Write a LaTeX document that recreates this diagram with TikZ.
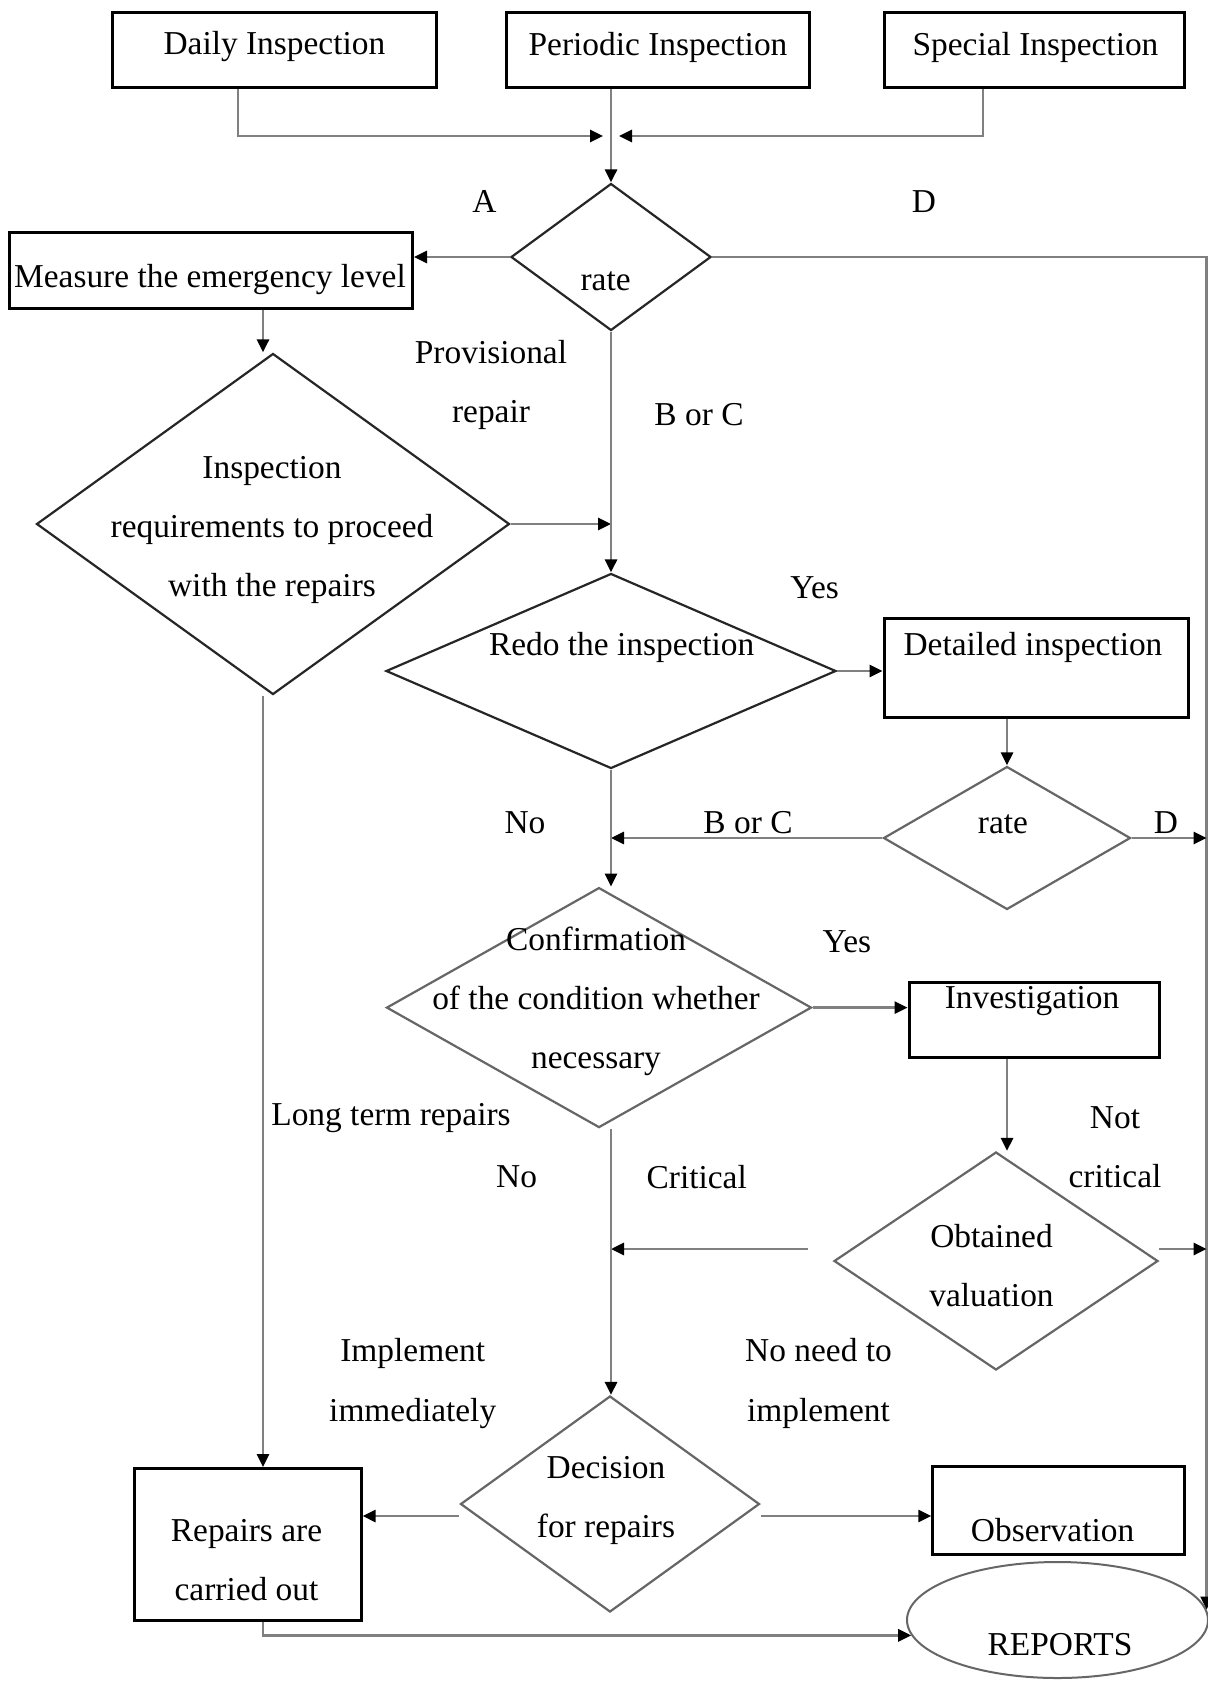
\documentclass[tikz,border=0pt]{standalone}
\usepackage{fontspec}
\setmainfont{Liberation Serif}
\usetikzlibrary{shapes.geometric, arrows.meta}

\begin{document}
\begin{tikzpicture}[x=0.5pt, y=-0.5pt,
  every node/.style={font=\fontsize{16.7}{29.6}\selectfont},
  box/.style={draw=black, line width=1.5pt, rectangle, inner sep=0pt},
  dia/.style={draw=black!85, line width=1.1pt, diamond, inner sep=0pt},
  diagray/.style={dia, draw=black!60},
  oval/.style={draw=black!60, line width=1pt, ellipse, inner sep=0pt},
  txt/.style={inner sep=0pt, align=center},
  conn/.style={draw=black!50, line width=1.4pt},
  arr/.style={conn, -{Triangle[length=6.5pt,width=6pt,color=black]}},
]
\useasboundingbox[fill=white] (0,0) rectangle (1208,1681);

% ---- shapes ----
\node[box, minimum width=162pt,   minimum height=37.5pt] (daily)    at (274.4, 50.4) {};
\node[box, minimum width=151.5pt, minimum height=37.5pt] (periodic) at (657.7, 50.4) {};
\node[box, minimum width=150pt,   minimum height=37.5pt] (special)  at (1034.4, 50.4) {};
\node[box, minimum width=201.5pt, minimum height=38pt]   (measure)  at (211, 270.7) {};
\node[box, minimum width=152pt,   minimum height=49.25pt] (detailed) at (1036, 667.8) {};
\node[box, minimum width=125pt,   minimum height=37.5pt] (invest)   at (1034, 1019.5) {};
\node[box, minimum width=113.5pt, minimum height=76pt]   (repairs)  at (247.6, 1544.6) {};
\node[box, minimum width=126pt,   minimum height=44pt]   (observ)   at (1058.8, 1510) {};

\node[dia, minimum width=100pt,   minimum height=73.5pt]  (r1)   at (611, 257) {};
\node[dia, minimum width=236.5pt, minimum height=170.5pt] (ir)   at (273, 524) {};
\node[dia, minimum width=225pt,   minimum height=97.5pt]  (redo) at (611, 671) {};
\node[diagray, minimum width=123.5pt, minimum height=71.5pt] (r2)   at (1007, 838) {};
\node[diagray, minimum width=212.5pt, minimum height=120pt]  (conf) at (599, 1007.6) {};
\node[diagray, minimum width=162pt,   minimum height=109pt]  (obt)  at (996, 1261) {};
\node[diagray, minimum width=149.5pt, minimum height=108pt]  (dec)  at (610, 1504) {};

\node[oval, minimum width=150.5pt, minimum height=58pt] (reports) at (1057.5, 1620) {};

% ---- texts inside shapes ----
\node[txt] (t-daily)    at (274.4, 47)  {Daily Inspection};
\node[txt] (t-periodic) at (658, 47)    {Periodic Inspection};
\node[txt] (t-special)  at (1035.5, 47) {Special Inspection};
\node[txt] (t-measure)  at (210, 280)   {Measure the emergency level};
\node[txt] (t-r1)       at (605.6, 281) {rate};
\node[txt] (t-ir)       at (272, 530)   {Inspection\\requirements to proceed\\with the repairs};
\node[txt] (t-redo)     at (621.7, 647.4) {Redo the inspection};
\node[txt] (t-detailed) at (1033, 647.4)  {Detailed inspection};
\node[txt] (t-r2)       at (1003, 824.3)  {rate};
\node[txt] (t-conf)     at (596, 1001.5)  {Confirmation\\of the condition whether\\necessary};
\node[txt] (t-invest)   at (1032, 1001)   {Investigation};
\node[txt] (t-obt)      at (991.5, 1265.5) {Obtained\\valuation};
\node[txt] (t-dec)      at (606, 1500.7)  {Decision\\for repairs};
\node[txt] (t-repairs)  at (246.5, 1560)  {Repairs are\\carried out};
\node[txt] (t-observ)   at (1052.6, 1530) {Observation};
\node[txt] (t-reports)  at (1060, 1645)   {REPORTS};

% ---- branch labels ----
\node[txt] (l-a)     at (484.5, 201.5) {A};
\node[txt] (l-d1)    at (924, 201.5)   {D};
\node[txt] (l-prov)  at (491, 385)     {Provisional\\repair};
\node[txt] (l-bc1)   at (699, 415)     {B or C};
\node[txt] (l-yes1)  at (814.6, 587.4) {Yes};
\node[txt] (l-no1)   at (525, 823)     {No};
\node[txt] (l-bc2)   at (748, 823)     {B or C};
\node[txt] (l-d2)    at (1166, 823)    {D};
\node[txt] (l-yes2)  at (846.8, 942)   {Yes};
\node[txt] (l-long)  at (391, 1118)    {Long term repairs};
\node[txt] (l-no2)   at (516.6, 1177)  {No};
\node[txt] (l-crit)  at (696.7, 1177)  {Critical};
\node[txt] (l-ncrit) at (1115, 1147.5) {Not\\critical};
\node[txt] (l-impl)  at (412.7, 1383.4) {Implement\\immediately};
\node[txt] (l-noneed) at (818.5, 1383.4) {No need to\\implement};

% ---- helper points ----
\coordinate (jn)    at (611, 136);
\coordinate (dcolA) at (238, 136);
\coordinate (scolA) at (983, 136);
\coordinate (lcol)  at (263, 0);
\coordinate (obtL)  at ([shift={(-12.5pt,6pt)}]obt.west);
\coordinate (obtR)  at ([yshift=6pt]obt.east);
\coordinate (decL)  at ([yshift=-6pt]dec.west);
\coordinate (decR)  at ([yshift=-6pt]dec.east);

% ---- connectors ----
\draw[arr, shorten >=4pt] (daily.south -| dcolA) |- (jn);
\draw[arr, shorten >=4pt] (special.south -| scolA) |- (jn);
\draw[arr] (periodic.south -| r1.north) -- (r1.north);
\draw[arr] (r1.west) -- (r1.west -| measure.east);
\draw[arr] (r1.east) -| (reports.4);
\draw[arr] (measure.south -| lcol) -- (ir.north -| lcol);
\draw[arr] (ir.east) -- (ir.east -| r1.south);
\draw[arr] (r1.south) -- (redo.north);
\draw[arr] (redo.east) -- (redo.east -| detailed.west);
\draw[arr] (detailed.south -| r2.north) -- (r2.north);
\draw[arr] (r2.west) -- (r2.west -| redo.south);
\draw[arr] (r2.east) -- (r2.east -| reports.4);
\draw[arr] (redo.south) -- (redo.south |- conf.north);
\draw[arr] (conf.east) -- (conf.east -| invest.west);
\draw[arr] (invest.south -| r2.south) -- (obt.north -| r2.south);
\draw[arr] (obtL) -- (obtL -| redo.south);
\draw[arr] (obtR) -- (obtR -| reports.4);
\draw[arr] (conf.south -| redo.south) -- (redo.south |- dec.north);
\draw[arr] (ir.south -| lcol) -- (repairs.north -| lcol);
\draw[arr] (decL) -- (decL -| repairs.east);
\draw[arr] (decR) -- (decR -| observ.west);
\draw[arr] (repairs.south -| lcol) |- (reports.186);
\end{tikzpicture}
\end{document}
